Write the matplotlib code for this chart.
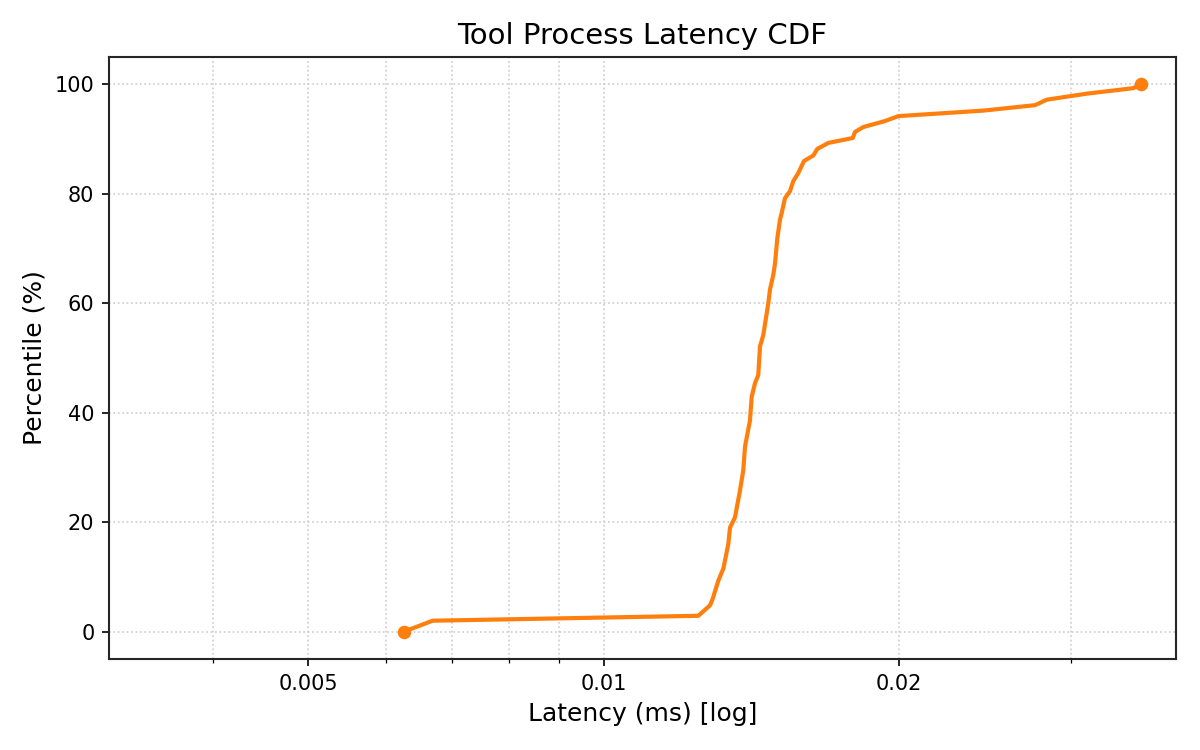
import matplotlib
matplotlib.use("Agg")
import matplotlib.pyplot as plt
from matplotlib.ticker import FixedLocator, FixedFormatter, LogLocator, NullFormatter

latency_ms = [0.006257, 0.006693, 0.012494, 0.012842, 0.012924, 0.013095, 0.013250,
              0.013407, 0.013460, 0.013619, 0.013780, 0.013887, 0.013943, 0.014107,
              0.014164, 0.014274, 0.014385, 0.014443, 0.014555, 0.014727, 0.014786,
              0.014901, 0.014962, 0.015043, 0.015138, 0.015199, 0.015317, 0.015498,
              0.015618, 0.015803, 0.016016, 0.016370, 0.016524, 0.016958, 0.017958,
              0.018055, 0.018411, 0.019375, 0.019990, 0.024392, 0.027562, 0.028330,
              0.031118, 0.034697, 0.035355]
percentile = [0.0, 2.0, 2.9, 4.8, 6.0, 9.3, 11.5,
              16.0, 19.0, 20.9, 25.8, 29.5, 33.8, 38.6,
              42.9, 45.4, 46.9, 52.1, 54.2, 60.0, 62.5,
              65.2, 67.3, 71.9, 75.3, 76.5, 79.2, 80.5,
              82.3, 83.8, 86.0, 87.0, 88.2, 89.3, 90.2,
              91.3, 92.2, 93.3, 94.2, 95.2, 96.2, 97.2,
              98.3, 99.3, 100.0]

major_ticks = [0.005, 0.01, 0.02]
major_labels = ["0.005", "0.01", "0.02"]

fig = plt.figure(figsize=(8, 5), dpi=150)
ax = fig.add_axes([0.0908, 0.1213, 0.8892, 0.8027])

ax.plot(latency_ms, percentile, color="#ff7f0e", linewidth=2.0,
        marker="o", markersize=5.5, markevery=[0, len(latency_ms) - 1])

ax.set_xscale("log")
ax.set_xlim(0.003129, 0.03838)
ax.set_ylim(-5, 105)
ax.xaxis.set_major_locator(FixedLocator(major_ticks))
ax.xaxis.set_major_formatter(FixedFormatter(major_labels))
ax.xaxis.set_minor_locator(LogLocator(base=10, subs=range(1, 10)))
ax.xaxis.set_minor_formatter(NullFormatter())

ax.grid(True, which="both", axis="x", linestyle=":", color="#cccccc", linewidth=0.8)
ax.grid(True, which="major", axis="y", linestyle=":", color="#cccccc", linewidth=0.8)

ax.tick_params(labelsize=10)
for s in ax.spines.values():
    s.set_color("#262626")
    s.set_linewidth(1.0)

ax.set_title("Tool Process Latency CDF", fontsize=14)
ax.set_xlabel("Latency (ms) [log]", fontsize=12)
ax.set_ylabel("Percentile (%)", fontsize=12)

fig.savefig("out.png", dpi=150)
